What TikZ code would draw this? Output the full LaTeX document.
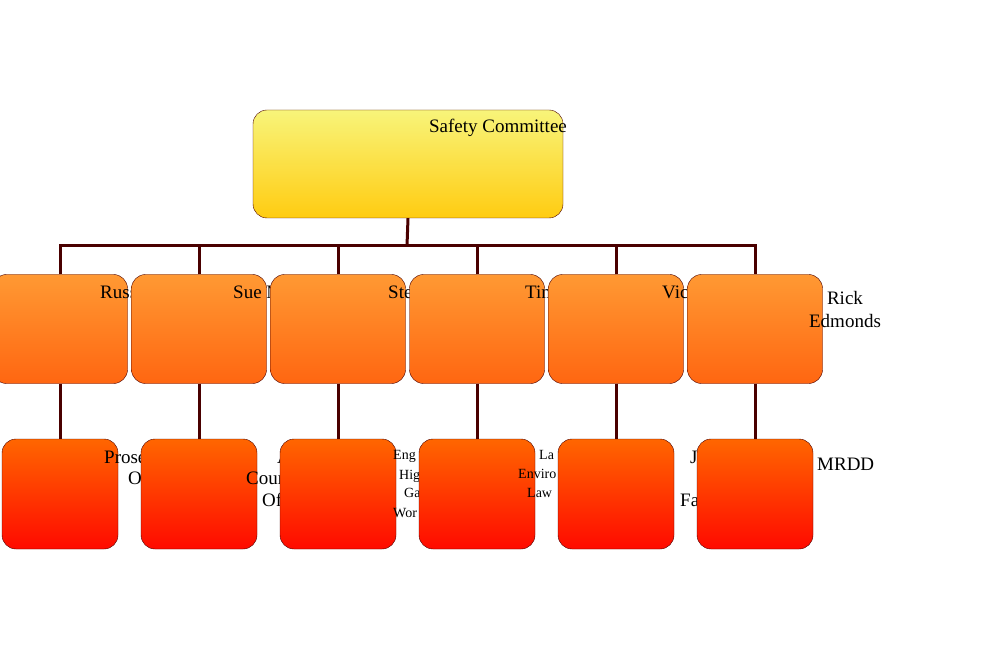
\documentclass[tikz,border=0pt]{standalone}
\usepackage{fontspec}
\setmainfont{Liberation Serif}
\usetikzlibrary{positioning}
\definecolor{linkred}{HTML}{4A0000}
\definecolor{topY}{HTML}{F8F47A}
\definecolor{botY}{HTML}{FFCC11}
\definecolor{topM}{HTML}{FF9933}
\definecolor{botM}{HTML}{FF6611}
\definecolor{topB}{HTML}{FF6600}
\definecolor{botB}{HTML}{FF0A00}
\tikzset{
    headbox/.style={rectangle, rounded corners=14pt, draw=linkred,
           top color=topY, bottom color=botY, minimum width=310pt, minimum height=108pt},
    midbox/.style={rectangle, rounded corners=14pt, draw=linkred,
           top color=topM, bottom color=botM, minimum width=135pt, minimum height=109pt},
    lowbox/.style={rectangle, rounded corners=14pt, draw=linkred,
           top color=topB, bottom color=botB, minimum width=116pt, minimum height=110pt},
    label/.style={anchor=west, inner sep=0pt, font=\fontsize{19}{23}\selectfont, align=left},
    small/.style={anchor=west, inner sep=0pt, font=\fontsize{14}{21}\selectfont, align=left},
    link/.style={draw=linkred, line width=3pt},
}

\begin{document}
\begin{tikzpicture}[x=1pt,y=-1pt]
	\useasboundingbox (0,0) rectangle (996,660);

	\node[headbox] (SC) at (408,164) {};
	\node[anchor=center,font=\fontsize{19}{23}\selectfont] (SCt) at (498,128) {Safety Committee};
	\coordinate (bus) at (407,246);

	% second row: text is drawn before the next box, which hides part of it
	\node[midbox] (M1) at (60,329) {};
	\node[label] (M1t) at (100,292) {Russ};
	\node[midbox] (M2) at (199,329) {};
	\node[label] (M2t) at (233,292) {Sue M};
	\node[midbox] (M3) at (338,329) {};
	\node[label] (M3t) at (388,292) {Steve};
	\node[midbox] (M4) at (477,329) {};
	\node[label] (M4t) at (525,292) {Tim};
	\node[midbox] (M5) at (616,329) {};
	\node[label] (M5t) at (662,292) {Vic};
	\node[midbox] (M6) at (755,329) {};
	\node[anchor=center,align=center,font=\fontsize{19}{23}\selectfont] (M6t) at (845,310) {Rick\\Edmonds};

	% third row
	\node[lowbox] (L1) at (60,494) {};
	\node[label] (L1a) at (104,457) {Prose};
	\node[label] (L1b) at (128,478) {O};
	\node[lowbox] (L2) at (199,494) {};
	\node[label] (L2a) at (277,457) {A};
	\node[label] (L2b) at (246,478) {Coun};
	\node[label] (L2c) at (262,500) {Of};
	\node[lowbox] (L3) at (338,494) {};
	\node[small] (L3a) at (393,456) {Eng};
	\node[small] (L3b) at (399,476) {Hig};
	\node[small] (L3c) at (404,493) {Ga};
	\node[small] (L3d) at (393,513) {Wor};
	\node[lowbox] (L4) at (477,494) {};
	\node[small] (L4a) at (539,455) {La};
	\node[small] (L4b) at (518,474) {Enviro};
	\node[small] (L4c) at (527,493) {Law};
	\node[lowbox] (L5) at (616,494) {};
	\node[label] (L5a) at (690,457) {J};
	\node[label] (L5b) at (680,500) {Fa};
	\node[lowbox] (L6) at (755,494) {};
	\node[label] (L6t) at (817,464) {MRDD};

	% connectors
	\draw[link] (SC.south) -- (bus);
	\draw[link] (M1.north) |- (bus) -| (M6.north);
	\foreach \i in {2,...,5}
		\draw[link] (M\i.north) -- (M\i.north |- bus);
	\foreach \i in {1,...,6}
		\draw[link] (M\i.south) -- (L\i.north);
\end{tikzpicture}
\end{document}
